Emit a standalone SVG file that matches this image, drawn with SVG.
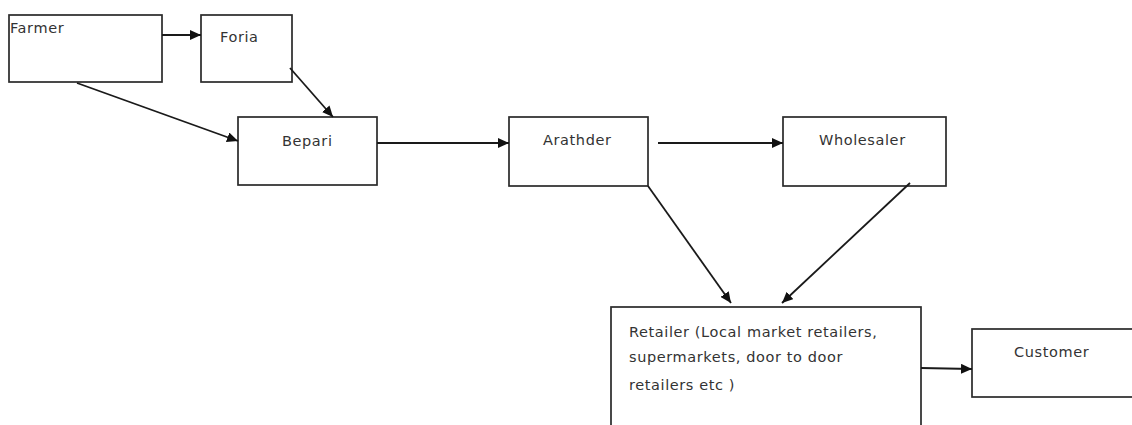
<svg xmlns="http://www.w3.org/2000/svg" width="1132" height="425" viewBox="0 0 1132 425">
  <style>
    .box { fill: #ffffff; stroke: #2a2a2a; stroke-width: 1.7; }
    .lbl { font-family: "DejaVu Sans", Verdana, sans-serif; font-size: 14.5px; fill: #333333; letter-spacing: 0.6px; }
    .edge { stroke: #1a1a1a; stroke-width: 1.8; fill: none; marker-end: url(#arrow); }
  </style>
  <defs>
    <marker id="arrow" viewBox="0 0 10 10" refX="10" refY="5" markerWidth="11" markerHeight="10" markerUnits="userSpaceOnUse" orient="auto" preserveAspectRatio="none">
      <path d="M0,0 L10,5 L0,10 Z" fill="#111111"/>
    </marker>
  </defs>
  <rect width="1132" height="425" fill="#ffffff"/>

  <g id="farmer">
    <rect class="box" x="9" y="15" width="153" height="67"/>
    <text class="lbl" x="10" y="33">Farmer</text>
  </g>
  <g id="foria">
    <rect class="box" x="201" y="15" width="91" height="67"/>
    <text class="lbl" x="220" y="42">Foria</text>
  </g>
  <g id="bepari">
    <rect class="box" x="238" y="117" width="139" height="68"/>
    <text class="lbl" x="282" y="146">Bepari</text>
  </g>
  <g id="arathder">
    <rect class="box" x="509" y="117" width="139" height="69"/>
    <text class="lbl" x="543" y="145">Arathder</text>
  </g>
  <g id="wholesaler">
    <rect class="box" x="783" y="117" width="163" height="69"/>
    <text class="lbl" x="819" y="145">Wholesaler</text>
  </g>
  <g id="retailer">
    <rect class="box" x="611" y="307" width="310" height="130"/>
    <text class="lbl" x="629" y="337">Retailer (Local market retailers,</text>
    <text class="lbl" x="629" y="362">supermarkets, door to door</text>
    <text class="lbl" x="629" y="390">retailers etc )</text>
  </g>
  <g id="customer">
    <rect class="box" x="972" y="329" width="170" height="68"/>
    <text class="lbl" x="1014" y="357">Customer</text>
  </g>

  <g id="connectors">
    <line class="edge" x1="162" y1="35" x2="201" y2="35"/>
    <line class="edge" x1="290" y1="68" x2="333" y2="117"/>
    <line class="edge" x1="77" y1="83" x2="238" y2="141"/>
    <line class="edge" x1="377" y1="143" x2="509" y2="143"/>
    <line class="edge" x1="658" y1="143" x2="783" y2="143"/>
    <line class="edge" x1="648" y1="186" x2="731" y2="303"/>
    <line class="edge" x1="910" y1="183" x2="782" y2="303"/>
    <line class="edge" x1="921" y1="368" x2="972" y2="369"/>
  </g>
</svg>
